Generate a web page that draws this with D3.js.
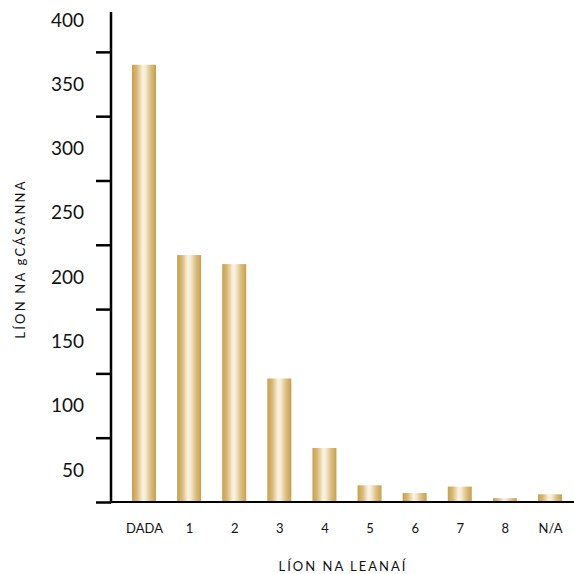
<!DOCTYPE html>
<html>
<head>
<meta charset="utf-8">
<script src="https://cdn.jsdelivr.net/npm/d3@7"></script>
<style>
  html, body { margin: 0; padding: 0; background: #fff; }
  svg { display: block; }
  text { font-family: Lato, "Open Sans", sans-serif; fill: #111; }
</style>
</head>
<body>
<svg id="chart" width="574" height="574"></svg>
<script>
const categories = ["DADA", "1", "2", "3", "4", "5", "6", "7", "8", "N/A"];
const values = [340, 192, 185, 96, 42, 13, 7, 12, 3, 6];
const tickValues = [0, 50, 100, 150, 200, 250, 300, 350];
const tickLabels = ["50", "100", "150", "200", "250", "300", "350", "400"];
const xTitle = "LÍON NA LEANAÍ";
const yTitle = "LÍON NA gCÁSANNA";

const svg = d3.select("#chart");
const axisX = 111, baseY = 502, topY = 12;

const y = d3.scaleLinear().domain([0, 381]).range([baseY, topY]);
const x = d3.scalePoint().domain(categories).range([144, 550]);
const barW = 24;

// gradient
const defs = svg.append("defs");
const grad = defs.append("linearGradient").attr("id", "gold")
  .attr("x1", "0%").attr("x2", "100%").attr("y1", "0%").attr("y2", "0%");
[[0, "#c7a04a"], [0.2, "#d8b873"], [0.45, "#faf3e4"], [0.55, "#f6ecd6"], [0.8, "#d9ba78"], [1, "#c7a04a"]]
  .forEach(([o, c]) => grad.append("stop").attr("offset", o).attr("stop-color", c));

// bars
svg.append("g").selectAll("rect").data(categories).join("rect")
  .attr("x", d => x(d) - barW / 2)
  .attr("width", barW)
  .attr("y", (d, i) => y(values[i]))
  .attr("height", (d, i) => y(0) - y(values[i]))
  .attr("fill", "url(#gold)");

// y axis
const yAxis = d3.axisLeft(y).tickValues(tickValues).tickSize(15).tickFormat("");
const gy = svg.append("g").attr("transform", `translate(${axisX},0)`).call(yAxis);
gy.select(".domain").remove();
gy.selectAll(".tick line").attr("stroke", "#000").attr("stroke-width", 2.5);
svg.append("line").attr("x1", axisX).attr("x2", axisX).attr("y1", topY).attr("y2", baseY + 1.2)
  .attr("stroke", "#000").attr("stroke-width", 2.5);

// tick labels (placed midway between tick marks as in the reference)
svg.append("g").selectAll("text").data(tickLabels).join("text")
  .attr("x", 84)
  .attr("y", (d, i) => y(tickValues[i] + 25))
  .attr("dy", "0.36em")
  .attr("text-anchor", "end")
  .attr("font-size", 19)
  .text(d => d);

// x axis
svg.append("line").attr("x1", axisX).attr("x2", 574).attr("y1", baseY).attr("y2", baseY)
  .attr("stroke", "#000").attr("stroke-width", 2);

const xAxis = d3.axisBottom(x).tickSize(0).tickPadding(0);
const gx = svg.append("g").attr("transform", `translate(0,${baseY})`).call(xAxis);
gx.select(".domain").remove();
gx.selectAll(".tick text").attr("y", 31).attr("dy", 0)
  .attr("font-size", 13).attr("font-family", "Lato, sans-serif").attr("fill", "#111");

// titles
svg.append("text").attr("x", 343).attr("y", 571).attr("text-anchor", "middle")
  .attr("font-size", 13).attr("letter-spacing", "2px").text(xTitle);
svg.append("text").attr("transform", "translate(25,259) rotate(-90)").attr("text-anchor", "middle")
  .attr("font-size", 13).attr("letter-spacing", "2.2px").text(yTitle);
</script>
</body>
</html>
